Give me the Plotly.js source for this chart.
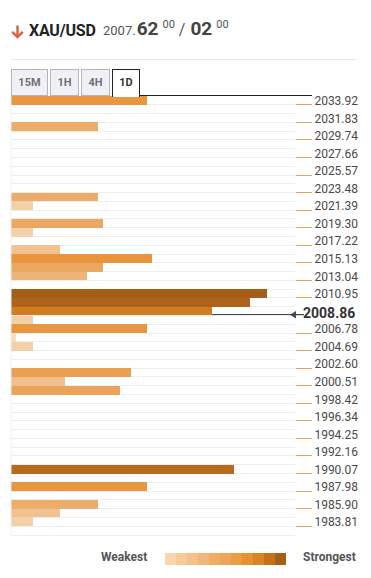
<!DOCTYPE html>
<html>
<head>
<meta charset="utf-8">
<script src="https://cdn.plot.ly/plotly-3.0.1.min.js"></script>
<style>
  html, body { margin:0; padding:0; background:#fff; }
  body { width:371px; height:578px; position:relative; overflow:hidden; font-family: Roboto, "Open Sans", sans-serif; }
  #chart { position:absolute; left:0; top:0; width:371px; height:578px; }
  .abs { position:absolute; white-space:nowrap; }
  .tab { position:absolute; top:69px; height:27px; box-sizing:border-box; border:1px solid #b4b4bc; background:#f1f1f5;
         font-weight:700; font-size:11px; color:#707078; text-align:center; line-height:25px; }
  .tab.active { background:#fff; border:1px solid #222; border-bottom:none; color:#333; height:28px; z-index:3; }
  #legendbar { position:absolute; left:165px; top:553px; width:121px; height:12px; display:flex; }
  #legendbar div { flex:1; height:100%; }
</style>
</head>
<body>
<div id="chart"></div>

<!-- header -->
<svg class="abs" style="left:10px;top:24px" width="15" height="15" viewBox="0 0 15 15">
  <path d="M7.5 1.5 V13" stroke="#d9603f" stroke-width="2.4" fill="none"/>
  <path d="M2.2 7.8 L7.5 13 L12.8 7.8" stroke="#d9603f" stroke-width="2.4" fill="none" stroke-linejoin="miter"/>
</svg>
<div class="abs" id="sym" style="left:29px;top:21px;font-size:16px;font-weight:700;color:#222;letter-spacing:-0.2px">XAU/USD</div>
<div class="abs" id="quote" style="left:103px;top:17px;color:#555;">
  <span style="font-size:13px;">2007.</span><span style="font-size:19px;font-weight:700;color:#444;margin-left:1px;">62</span><span style="font-size:11px;vertical-align:7px;margin-left:4px;">00</span><span style="font-size:16px;margin:0 5px 0 4px;">/</span><span style="font-size:19px;font-weight:700;color:#444;">02</span><span style="font-size:11px;vertical-align:7px;margin-left:4px;">00</span>
</div>
<div class="abs" style="left:11px;top:59px;width:345px;height:1px;background:#e8e8e8"></div>

<!-- tabs -->
<div class="tab" style="left:11px;width:37px">15M</div>
<div class="tab" style="left:50px;width:29px">1H</div>
<div class="tab" style="left:81px;width:29px">4H</div>
<div class="tab active" style="left:112px;width:28px">1D</div>
<div class="abs" style="left:139px;top:95px;width:173px;height:1px;background:#222"></div>

<!-- legend -->
<div class="abs" style="left:101px;top:550px;font-size:12px;font-weight:700;color:#555">Weakest</div>
<div id="legendbar"></div>
<div class="abs" style="left:303px;top:550px;font-size:12px;font-weight:700;color:#555">Strongest</div>

<script>
// ---- data ----
var tickPrices = [2033.92, 2031.83, 2029.74, 2027.66, 2025.57, 2023.48, 2021.39, 2019.30, 2017.22, 2015.13,
                  2013.04, 2010.95, 2008.86, 2006.78, 2004.69, 2002.60, 2000.51, 1998.42, 1996.34, 1994.25,
                  1992.16, 1990.07, 1987.98, 1985.90, 1983.81];
var tickLabels = ["2033.92", "2031.83", "2029.74", "2027.66", "2025.57", "2023.48", "2021.39", "2019.30", "2017.22", "2015.13",
                  "2013.04", "2010.95", "2008.86", "2006.78", "2004.69", "2002.60", "2000.51", "1998.42", "1996.34", "1994.25",
                  "1992.16", "1990.07", "1987.98", "1985.90", "1983.81"];
var currentPrice = 2008.86;
var currentLabel = "2008.86";
var levelPrices = [2034.44, 2031.31, 2022.96, 2021.91, 2019.83, 2018.78, 2016.69, 2015.65, 2014.61, 2013.56,
                   2011.47, 2010.43, 2009.39, 2008.34, 2007.30, 2006.26, 2005.21, 2002.08, 2001.04, 1999.99,
                   1990.60, 1988.51, 1986.42, 1985.38, 1984.33];
var strengths   = [25, 16, 16, 4, 17, 4, 9, 26, 17, 14,
                   47, 44, 37, 4, 25, 1, 4, 22, 10, 20,
                   41, 25, 16, 9, 4];
var legendSteps = [1, 2, 3, 4, 5, 6, 7, 8, 9, 10, 11];

// ---- styles ----
var scale = [
  [0.00, '#f9e0c6'],
  [0.085, '#f4d0a9'],
  [0.19, '#f1c290'],
  [0.30, '#eeb377'],
  [0.36, '#eba863'],
  [0.47, '#e9a052'],
  [0.55, '#e8953b'],
  [0.79, '#d17d20'],
  [0.87, '#b86a1c'],
  [1.00, '#a35e18']
];
var legendColors = ['#fad5b0', '#f7ca9c', '#f5c08a', '#f2b67a', '#f0ac67', '#eea558', '#eb9c45', '#e79232', '#d98424', '#c4721c', '#a55f18'];
var lb = document.getElementById('legendbar');
legendSteps.forEach(function (s, i) {
  var d = document.createElement('div');
  d.style.background = legendColors[i];
  lb.appendChild(d);
});

var step = (tickPrices[0] - tickPrices[tickPrices.length - 1]) / ((tickPrices.length - 1) * 2);
var yMin = tickPrices[tickPrices.length - 1] - step;
var yMax = tickPrices[0] + step;
var xMax = 52.2;

var axisTicks = [], axisText = [];
tickPrices.forEach(function (p, i) {
  if (p !== currentPrice) { axisTicks.push(p); axisText.push(tickLabels[i]); }
});

var trace = {
  type: 'bar',
  orientation: 'h',
  x: strengths,
  y: levelPrices,
  width: step,
  marker: { color: strengths, colorscale: scale, cmin: 0, cmax: 47, line: { width: 0 } },
  hoverinfo: 'none'
};

var plotW = 371 - 11 - 76;
function px2paper(px) { return (px - 11) / plotW; }

var layout = {
  width: 371, height: 578,
  margin: { l: 11, r: 76, t: 96, b: 43, pad: 0 },
  paper_bgcolor: 'rgba(0,0,0,0)',
  plot_bgcolor: '#ffffff',
  showlegend: false,
  bargap: 0,
  font: { family: 'Roboto, sans-serif', color: '#444' },
  xaxis: {
    range: [0, xMax], fixedrange: true,
    showgrid: false, zeroline: false, showticklabels: false, ticks: '',
    showline: true, linecolor: '#eeeeee', linewidth: 1
  },
  yaxis: {
    range: [yMin, yMax], fixedrange: true, side: 'right',
    tickmode: 'array', tickvals: axisTicks, ticktext: axisText,
    ticks: 'outside', ticklen: 16, tickwidth: 1, tickcolor: '#d8a65c',
    ticklabelshift: -4,
    tickfont: { family: 'Roboto, sans-serif', size: 12, color: '#4a4a4a' },
    showgrid: true, gridcolor: '#ececec', gridwidth: 1,
    minor: { tickmode: 'linear', tick0: tickPrices[0], dtick: step, showgrid: true, gridcolor: '#ececec', gridwidth: 1, ticks: '' },
    zeroline: false, showline: false
  },
  shapes: [
    { type: 'line', xref: 'paper', yref: 'paper', x0: 0, x1: 0, y0: 0, y1: 1, line: { color: '#eeeeee', width: 1 } },
    { type: 'line', layer: 'below', xref: 'paper', yref: 'y', x0: 0, x1: px2paper(304),
      y0: currentPrice + 0.1, y1: currentPrice + 0.1, line: { color: '#3d4858', width: 1.2 } },
    { type: 'path', xref: 'paper', yref: 'y', fillcolor: '#3d4858', line: { width: 0 },
      path: 'M ' + px2paper(290) + ' ' + (currentPrice + 0.1) +
            ' L ' + px2paper(296) + ' ' + (currentPrice + 0.1 + 0.45) +
            ' L ' + px2paper(296) + ' ' + (currentPrice + 0.1 - 0.45) + ' Z' }
  ],
  annotations: [
    { xref: 'paper', yref: 'y', x: px2paper(357), y: currentPrice, xanchor: 'right', yanchor: 'middle',
      yshift: 3, showarrow: false, text: '<b>' + currentLabel + '</b>',
      font: { family: 'Roboto, sans-serif', size: 14, color: '#333' } }
  ]
};

Plotly.newPlot('chart', [trace], layout, { displayModeBar: false, staticPlot: true });
</script>
</body>
</html>
